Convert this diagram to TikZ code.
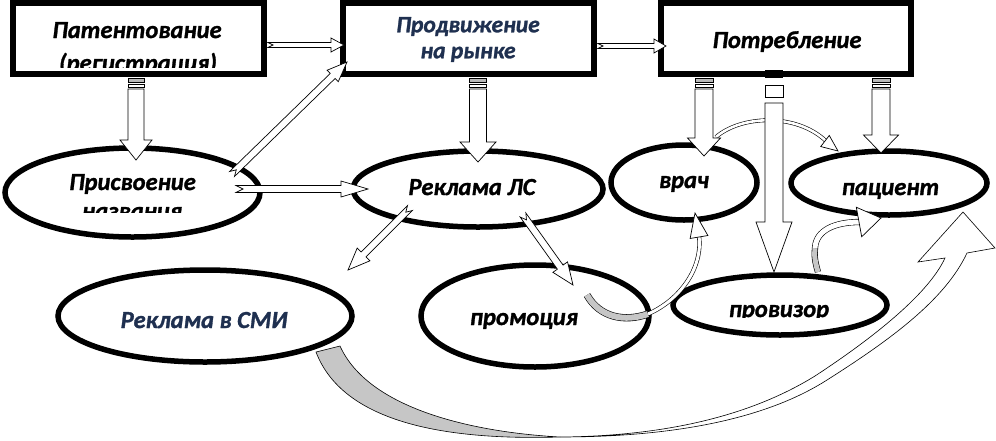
\documentclass[tikz,border=0pt]{standalone}
\usepackage{fontspec}
\setmainfont{Carlito}[BoldItalicFeatures={FakeBold=1.2}]
\usetikzlibrary{calc,shapes.geometric}
\definecolor{navy}{HTML}{1F3050}
\tikzset{
  boxst/.style={draw, line width=6pt, fill=white, rectangle, inner sep=0pt},
  ellst/.style={draw, line width=5.5pt, fill=white, ellipse, inner sep=0pt},
  lbl/.style={font=\fontsize{24.5}{21}\selectfont\bfseries\itshape, inner sep=0pt, anchor=base},
  harr/.style={draw=black, fill=white, line width=0.7pt, line join=miter},
  ribbon/.style={double=white, double distance=#1, line width=0.6pt},
  gribbon/.style={double=gray!45, double distance=#1, line width=0.6pt},
}
% hollow block arrow: start, end, half shaft, half head, head length, tail notch (all in pt)
\newcommand{\blk}[6]{%
  \coordinate (bA) at (#1); \coordinate (bB) at (#2);
  \coordinate (bH) at ($(bB)!#5pt!(bA)$);
  \filldraw[harr] ($(bA)!#3pt!90:(bB)$) -- ($(bH)!#3pt!-90:(bA)$) -- ($(bH)!#4pt!-90:(bA)$)
    -- (bB) -- ($(bH)!#4pt!90:(bA)$) -- ($(bH)!#3pt!90:(bA)$) -- ($(bA)!#3pt!-90:(bB)$)
    -- ($(bA)!#6pt!(bB)$) -- cycle;}
% triangular head: base, tip, half width
\newcommand{\chead}[3]{%
  \coordinate (cB) at (#1); \coordinate (cT) at (#2);
  \filldraw[harr] ($(cB)!#3pt!90:(cT)$) -- (cT) -- ($(cB)!#3pt!-90:(cT)$) -- cycle;}
% striped tail under a box
\newcommand{\stripes}[2]{%
  \filldraw[fill=gray!55, line width=0.6pt] ({#1-#2},78) rectangle ({#1+#2},82);
  \draw[line width=0.6pt] ({#1-#2},84) rectangle ({#1+#2},87);}
\begin{document}
\begin{tikzpicture}[x=1pt,y=-1pt]
\useasboundingbox[fill=white] (0,0) rectangle (996,440);

% grey back of the big curved arrow (behind the ellipse)
\filldraw[fill=gray!45, line width=0.6pt] (316,352) .. controls (345,428) and (460,440) .. (560,437)
   .. controls (470,432) and (368,408) .. (340,346) -- cycle;

% boxes
\node[boxst, minimum width=251pt, minimum height=71pt] (box1) at (138.5,38.5) {};
\node[boxst, minimum width=251pt, minimum height=71pt] (box2) at (468.5,38.5) {};
\node[boxst, minimum width=250pt, minimum height=71pt] (box3) at (786,38.5) {};

% ellipses
\node[ellst, minimum width=255pt, minimum height=89pt] (prisv) at (132.5,192.5) {};
\node[ellst, minimum width=250pt, minimum height=76pt] (reklls) at (478,189) {};
\node[ellst, minimum width=146pt, minimum height=75pt] (vrach) at (684,182.5) {};
\node[ellst, minimum width=196pt, minimum height=64pt] (pacient) at (889,183) {};
\node[ellst, minimum width=294pt, minimum height=92pt] (smi) at (205,316) {};
\node[ellst, minimum width=228pt, minimum height=102pt] (promo) at (535,316) {};
\node[ellst, minimum width=214pt, minimum height=60pt] (proviz) at (780,305) {};

% texts
\node[lbl] (t1a) at (137,38) {Патентование};
\begin{scope}
  \clip (16,6) rectangle (261,67);
  \node[lbl] (t1b) at (138,71) {(регистрация)};
\end{scope}
\node[lbl, font=\fontsize{23.5}{26}\selectfont\bfseries\itshape, text=navy, align=center, anchor=center] (t2) at (468,39.5) {Продвижение\\на рынке};
\node[lbl] (t3) at (787,48) {Потребление};
\node[lbl] (t4a) at (132.5,190) {Присвоение};
\begin{scope}
  \clip (0,140) rectangle (270,212);
  \node[lbl] (t4b) at (132,219) {названия};
\end{scope}
\node[lbl] (t5) at (472,195) {Реклама ЛС};
\node[lbl] (t6) at (684,188) {врач};
\node[lbl] (t7) at (890.5,195) {пациент};
\node[lbl, text=navy] (t8) at (204,328) {Реклама в СМИ};
\node[lbl] (t9) at (524,325) {промоция};
\begin{scope}
  \clip (670,270) rectangle (890,317.5);
  \node[lbl] (t10) at (779,317) {провизор};
\end{scope}

% big curved arrow smi -> pacient (front part)
\filldraw[harr, line width=0.6pt] (560,437) .. controls (700,437) and (780,410) .. (827,380)
   .. controls (890,340) and (945,300) .. (967,253)
   -- (995,248) -- (963,212) -- (918,262) -- (945,258)
   .. controls (928,295) and (870,340) .. (815,376)
   .. controls (760,410) and (680,436) .. (560,437) -- cycle;

% straight hollow arrows
\blk{268,45}{344,45}{2.5}{7}{13}{5}
\blk{598,46}{666,46}{2.5}{7}{12}{5}
\blk{232,174}{347,62}{3.5}{8}{20}{6}
\blk{236,189}{368,189}{3.5}{8}{27}{7}
\blk{410,208}{348,270}{3.5}{9}{22}{6}
\blk{523,215}{573,285}{3.5}{9}{22}{6}

% curved arrow vrach -> pacient (arc over)
\draw[ribbon=2.6pt] (716,137) .. controls (740,116) and (795,112) .. (826,141);
\chead{825,141}{838,151}{7}

% promo -> vrach
\draw[gribbon=6pt] (587,295) .. controls (600,318) and (625,322) .. (648,314);
\draw[ribbon=3pt] (648,314) .. controls (680,300) and (703,268) .. (699,236);
\chead{699,237}{695,213}{9}

% proviz -> pacient
\draw[gribbon=5pt] (818,272) .. controls (815,262) and (814,255) .. (815,248);
\draw[ribbon=5pt] (815,248) .. controls (816,230) and (835,222) .. (860,222);
\chead{859,222}{881,218}{15}

% vertical block arrows from the boxes
\stripes{136}{8}
\blk{136,89}{136,160}{8}{16}{20}{0}
\stripes{478}{8.5}
\blk{478,89}{478,162}{8.5}{18}{20}{0}
\stripes{704}{9}
\blk{704,89}{704,156}{9}{16.5}{18}{0}
\stripes{881}{9}
\blk{881,89}{881,153}{9}{17.5}{18}{0}
\fill[black] (765,70) rectangle (783,78);
\draw[line width=0.7pt] (765,85) rectangle (783,97);
\blk{774,103}{774,272}{9}{18}{50}{0}
\end{tikzpicture}
\end{document}
